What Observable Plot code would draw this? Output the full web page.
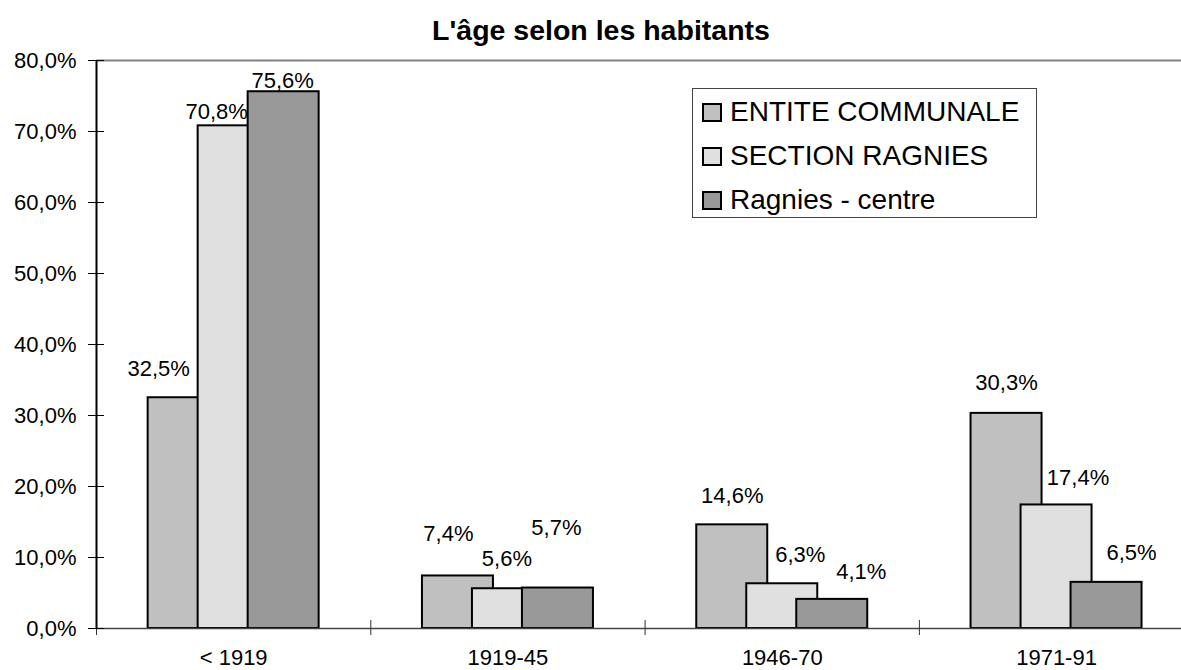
<!DOCTYPE html>
<html>
<head>
<meta charset="utf-8">
<script src="https://cdn.jsdelivr.net/npm/d3@7"></script>
<script src="https://cdn.jsdelivr.net/npm/@observablehq/plot@0.6"></script>
<style>
  html, body { margin: 0; padding: 0; background: #fff; }
  body { width: 1181px; height: 670px; position: relative; overflow: hidden;
         font-family: "Liberation Sans", Arial, sans-serif; }
  #title { position: absolute; top: 14px; left: 601px; transform: translateX(-50%);
           font-weight: bold; font-size: 28.5px; white-space: nowrap; color: #000; line-height: 32px; }
  #chart { position: absolute; left: 0; top: 0; }
  #legend { position: absolute; left: 692px; top: 88px; width: 343px; height: 127px;
            border: 1px solid #444; background: #fff; padding-top: 1px; box-sizing: content-box; }
  .row { height: 44px; display: flex; align-items: center; padding-left: 9px; }
  .sw { width: 16px; height: 15px; border: 2px solid #000; margin-right: 8px; flex: none; }
  .lab { font-size: 28px; color: #000; white-space: nowrap; }
</style>
</head>
<body>
<div id="title">L'âge selon les habitants</div>
<div id="chart"></div>
<div id="legend"></div>
<script>
// ---- data ----
const categories = ["< 1919", "1919-45", "1946-70", "1971-91"];
const seriesNames = ["ENTITE COMMUNALE", "SECTION RAGNIES", "Ragnies - centre"];
const entiteCommunale = [32.5, 7.4, 14.6, 30.3];
const sectionRagnies  = [70.8, 5.6, 6.3, 17.4];
const ragniesCentre   = [75.6, 5.7, 4.1, 6.5];
const yTicks = [0, 10, 20, 30, 40, 50, 60, 70, 80];
const seriesColors = ["#c0c0c0", "#e0e0e0", "#999999"];

// label nudges (pixels) relative to bar centre / bar top, mimicking the original placement
const labelNudgeX = [[-25, -9.5, 0, 0], [-17, -1, 18, 21.5], [-1, -1.5, 29, 25]];
const labelNudgeY = [[-29, -42, -29, -30], [-14, -30, -29, -27.5], [-11, -60.5, -27, -29]];

// ---- layout constants ----
const bandPx = 274.3;          // pixel width of one category band
const pxPerUnit = 568 / 80;    // pixel per percent
const barStep = 50 / bandPx;   // offset between overlapping bars (band units)
const barW = 71 / bandPx;      // bar width (band units)

const values = [entiteCommunale, sectionRagnies, ragniesCentre];
const bars = [];
values.forEach((arr, j) => arr.forEach((v, i) => {
  const c = i + 0.5 + (j - 1) * barStep;
  bars.push({cat: categories[i], series: seriesNames[j], j, i, v, c});
}));

const fmtPct = d => d.toFixed(1).replace(".", ",") + "%";
const font = "Liberation Sans, Arial, sans-serif";

const chart = Plot.plot({
  width: 1181,
  height: 670,
  marginTop: 60,
  marginBottom: 42,
  marginLeft: 96,
  marginRight: 0,
  style: {fontFamily: font, background: "transparent", overflow: "visible"},
  x: {type: "linear", domain: [0, 4], range: [96, 96 + 4 * bandPx], axis: null},
  y: {domain: [0, 80], range: [628, 60], axis: null},
  color: {type: "ordinal", domain: seriesNames, range: seriesColors},
  marks: [
    // top border of plot area
    Plot.ruleY([80], {x1: 0, x2: 4, stroke: "#808080", strokeWidth: 2}),
    // bars (drawn in series order so later bars overlap earlier ones)
    Plot.rectY(bars, {
      x1: d => d.c - barW / 2, x2: d => d.c + barW / 2, y1: 0, y2: "v",
      fill: "series", stroke: "#000", strokeWidth: 2
    }),
    // bottom axis line
    Plot.ruleY([0], {x1: 0, x2: 4, stroke: "#444", strokeWidth: 1.5}),
    // bottom ticks at category boundaries (crossing)
    Plot.ruleX(d3.range(categories.length + 1), {y1: 0, y2: 0, insetTop: -8, insetBottom: -7, stroke: "#333", strokeWidth: 1}),
    // left axis line
    Plot.ruleX([0], {y1: 0, y2: 80, stroke: "#000", strokeWidth: 2}),
    // left ticks (crossing)
    Plot.ruleY(yTicks, {x1: 0, x2: 0, insetLeft: -8, insetRight: -8, stroke: "#000", strokeWidth: 1}),
    // y tick labels
    Plot.text(yTicks, {x: 0, y: d => d, text: fmtPct, dx: -20, textAnchor: "end",
      fontSize: 22, fill: "#000", lineAnchor: "middle"}),
    // category labels
    Plot.text(categories, {x: (d, i) => i + 0.5, y: 0, text: d => d, dy: 29,
      fontSize: 22, fill: "#000", lineAnchor: "middle"}),
    // data labels
    Plot.text(bars, {
      x: d => d.c + labelNudgeX[d.j][d.i] / bandPx,
      y: d => d.v - labelNudgeY[d.j][d.i] / pxPerUnit,
      text: d => fmtPct(d.v), fontSize: 22, fill: "#000", lineAnchor: "middle"
    })
  ]
});
document.getElementById("chart").appendChild(chart);

// legend
const legend = document.getElementById("legend");
seriesNames.forEach((name, j) => {
  const row = document.createElement("div");
  row.className = "row";
  const sw = document.createElement("div");
  sw.className = "sw";
  sw.style.background = seriesColors[j];
  const lab = document.createElement("div");
  lab.className = "lab";
  lab.textContent = name;
  row.appendChild(sw); row.appendChild(lab);
  legend.appendChild(row);
});
</script>
</body>
</html>
